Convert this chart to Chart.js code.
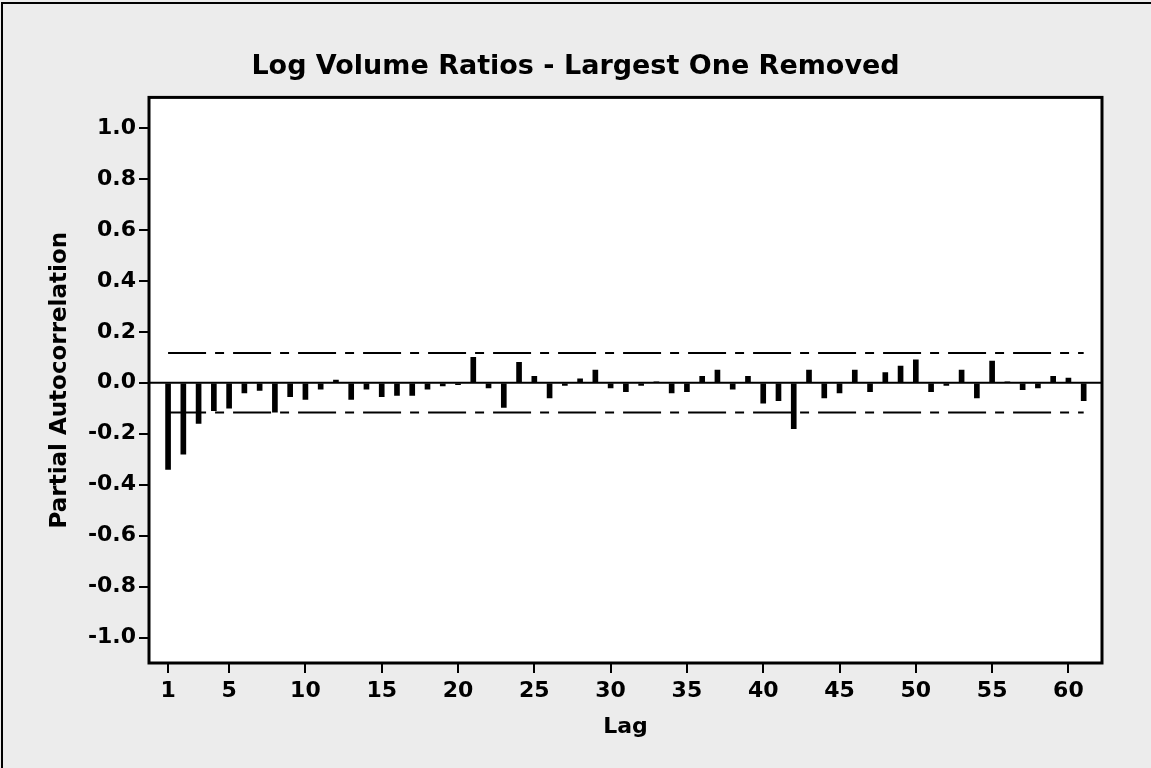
<!DOCTYPE html>
<html lang="en">
<head>
    <meta charset="UTF-8">
    <title>Log Volume Ratios - Largest One Removed</title>
    <style>
        body { margin: 0; background: #ececec; }
        canvas { display: block; }
    </style>
    <script src="https://cdn.jsdelivr.net/npm/chart.js"></script>
</head>
<body>
    <canvas id="pacfChart" width="1151" height="768"></canvas>

    <script>
        // Partial autocorrelation by lag
        var lags = [];
        for (var i = 1; i <= 61; i++) lags.push(i);
        var pacf = [
            -0.34, -0.28, -0.16, -0.11, -0.10, -0.04, -0.03, -0.115, -0.055, -0.065,
            -0.025, 0.01, -0.065, -0.025, -0.055, -0.05, -0.05, -0.025, -0.012, -0.008,
            0.10, -0.02, -0.097, 0.08, 0.025, -0.06, -0.01, 0.015, 0.05, -0.02,
            -0.035, -0.01, 0.002, -0.04, -0.035, 0.025, 0.05, -0.025, 0.025, -0.08,
            -0.07, -0.18, 0.05, -0.06, -0.04, 0.05, -0.035, 0.04, 0.065, 0.09,
            -0.035, -0.01, 0.05, -0.06, 0.085, 0.002, -0.027, -0.02, 0.025, 0.018,
            -0.07
        ];
        var bound = 0.117; // 5% significance limit
        var xTicks = [1, 5, 10, 15, 20, 25, 30, 35, 40, 45, 50, 55, 60];
        var yTicks = [-1.0, -0.8, -0.6, -0.4, -0.2, 0.0, 0.2, 0.4, 0.6, 0.8, 1.0];

        var xMin = -0.25, xMax = 62.2;
        var font = 'DejaVu Sans';

        // grey page, white plot box with a heavy frame
        const framePlugin = {
            id: 'framePlugin',
            beforeDraw: function(chart) {
                const ctx = chart.ctx;
                const a = chart.chartArea;
                ctx.save();
                ctx.fillStyle = '#ececec';
                ctx.fillRect(0, 0, chart.width, chart.height);
                ctx.strokeStyle = '#000';
                ctx.lineWidth = 2;
                ctx.beginPath();
                ctx.moveTo(2, chart.height);
                ctx.lineTo(2, 3);
                ctx.lineTo(chart.width, 3);
                ctx.stroke();
                ctx.fillStyle = '#fff';
                ctx.fillRect(a.left, a.top, a.right - a.left, a.bottom - a.top);
                ctx.restore();
            },
            afterDraw: function(chart) {
                const ctx = chart.ctx;
                const a = chart.chartArea;
                ctx.save();
                ctx.strokeStyle = '#000';
                ctx.lineWidth = 3;
                ctx.strokeRect(a.left, a.top, a.right - a.left, a.bottom - a.top);
                ctx.restore();
            }
        };
        Chart.register(framePlugin);

        var barData = lags.map(function(l, i) { return { x: l, y: pacf[i] }; });

        var data = {
            datasets: [
                {
                    type: 'bar',
                    data: barData,
                    backgroundColor: '#000',
                    barThickness: 5
                },
                {
                    type: 'line',
                    data: [{ x: xMin, y: 0 }, { x: xMax, y: 0 }],
                    borderColor: '#000',
                    borderWidth: 2,
                    pointRadius: 0
                },
                {
                    type: 'line',
                    data: [{ x: 1, y: bound }, { x: 61, y: bound }],
                    borderColor: '#000',
                    borderWidth: 2,
                    borderDash: [38, 9, 9, 9],
                    pointRadius: 0
                },
                {
                    type: 'line',
                    data: [{ x: 1, y: -bound }, { x: 61, y: -bound }],
                    borderColor: '#000',
                    borderWidth: 2,
                    borderDash: [38, 9, 9, 9],
                    pointRadius: 0
                }
            ]
        };

        var options = {
            responsive: false,
            animation: false,
            layout: { padding: { left: 49, right: 49, top: 0, bottom: 0 } },
            plugins: {
                legend: { display: false },
                tooltip: { enabled: false },
                title: {
                    display: true,
                    text: 'Log Volume Ratios - Largest One Removed',
                    color: '#000',
                    font: { family: font, size: 27, weight: 'bold' },
                    padding: { top: 51, bottom: 14 }
                }
            },
            scales: {
                x: {
                    type: 'linear',
                    min: xMin,
                    max: xMax,
                    offset: false,
                    afterBuildTicks: function(scale) {
                        scale.ticks = xTicks.map(function(v) { return { value: v }; });
                    },
                    afterFit: function(scale) { scale.height = 105; },
                    border: { display: false },
                    grid: { offset: false, drawOnChartArea: false, tickLength: 10, color: '#000', lineWidth: 2 },
                    ticks: {
                        color: '#000',
                        autoSkip: false,
                        maxRotation: 0,
                        padding: 5,
                        font: { family: font, size: 22, weight: 'bold' }
                    },
                    title: {
                        display: true,
                        text: 'Lag',
                        color: '#000',
                        font: { family: font, size: 22, weight: 'bold' },
                        padding: { top: 0, bottom: 28 }
                    }
                },
                y: {
                    min: -1.1,
                    max: 1.12,
                    afterBuildTicks: function(scale) {
                        scale.ticks = yTicks.map(function(v) { return { value: v }; });
                    },
                    afterFit: function(scale) { scale.width = 100; },
                    border: { display: false },
                    grid: { drawOnChartArea: false, tickLength: 10, color: '#000', lineWidth: 2 },
                    ticks: {
                        color: '#000',
                        padding: 3,
                        font: { family: font, size: 22, weight: 'bold' },
                        callback: function(v) { return v.toFixed(1); }
                    },
                    title: {
                        display: true,
                        text: 'Partial Autocorrelation',
                        color: '#000',
                        font: { family: font, size: 23, weight: 'bold' },
                        padding: { top: -3, bottom: 0 }
                    }
                }
            }
        };

        var ctx = document.getElementById('pacfChart').getContext('2d');
        new Chart(ctx, { data: data, options: options });
    </script>
</body>
</html>
